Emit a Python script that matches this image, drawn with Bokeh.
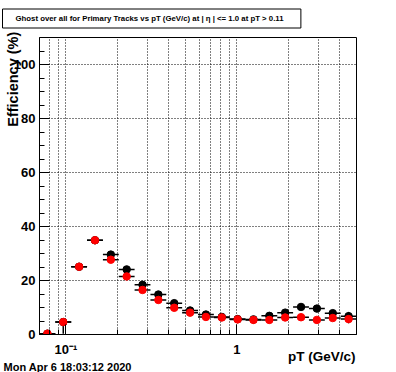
import math
from bokeh.plotting import figure
from bokeh.models import FixedTicker, Range1d, CustomJSTickFormatter, Title
from bokeh.embed import file_html
from bokeh.resources import INLINE

# pT bins (GeV/c), log-spaced
bin_lo = [0.0700, 0.0866, 0.1073, 0.1328, 0.1644, 0.2035, 0.2519, 0.3118, 0.3860, 0.4779,
          0.5916, 0.7324, 0.9067, 1.1224, 1.3894, 1.7200, 2.1290, 2.6360, 3.2630, 4.0400]
bin_hi = [0.0866, 0.1073, 0.1328, 0.1644, 0.2035, 0.2519, 0.3118, 0.3860, 0.4779, 0.5916,
          0.7324, 0.9067, 1.1224, 1.3894, 1.7200, 2.1290, 2.6360, 3.2630, 4.0400, 5.0000]

# black series (%)
black_eff = [0.3, 4.6, 25.1, 34.9, 29.6, 24.1, 18.4, 14.8, 11.6, 8.9,
             7.4, 6.5, 5.7, 5.6, 6.9, 8.1, 10.2, 9.6, 7.9, 6.8]
black_err_lo = [0.0, 4.3, 0.0, 0.0, 0.0, 0.0, 0.0, 0.0, 0.0, 0.0,
                0.0, 0.0, 0.0, 0.0, 0.0, 0.0, 0.0, 0.0, 0.0, 2.6]
black_err_hi = [0.0, 0.8, 0.0, 0.0, 0.0, 0.0, 0.0, 0.0, 0.0, 0.0,
                0.0, 0.0, 0.0, 0.0, 0.0, 0.0, 0.0, 0.0, 0.0, 1.5]
# red series (%)
red_eff = [0.3, 4.6, 25.1, 34.9, 27.7, 21.5, 16.5, 12.8, 9.9, 8.1,
           6.5, 6.3, 5.6, 5.4, 5.4, 6.3, 6.4, 5.4, 6.1, 5.7]

x_major = [0.1, 1.0]
x_minor = [0.08, 0.09, 0.2, 0.3, 0.4, 0.5, 0.6, 0.7, 0.8, 0.9, 2.0, 3.0, 4.0, 5.0]
x_grid = [0.08, 0.09, 0.1, 0.2, 0.3, 0.4, 0.5, 0.6, 0.7, 0.8, 0.9, 1.0, 2.0, 3.0, 4.0]
y_major = [0, 20, 40, 60, 80, 100]
y_minor = [5, 10, 15, 25, 30, 35, 45, 50, 55, 65, 70, 75, 85, 90, 95, 105]
y_grid = [20, 40, 60, 80, 100]

title_text = "Ghost over all for Primary Tracks vs pT (GeV/c) at |   \u03b7 | <= 1.0 at pT > 0.11"
ylabel_text = "Efficiency (%)"
xlabel_text = "pT (GeV/c)"
date_text = "Mon Apr  6 18:03:12 2020"

centers = [math.sqrt(a * b) for a, b in zip(bin_lo, bin_hi)]

FONT = "Liberation Sans"
NBSP = "\u00a0"

p = figure(width=396, height=372, x_axis_type="log",
           x_range=Range1d(0.07, 5.0), y_range=Range1d(0, 110),
           output_backend="svg", toolbar_location=None,
           min_border_left=39, min_border_right=40, min_border_top=37, min_border_bottom=38)
p.background_fill_color = "white"
p.border_fill_color = "white"
p.outline_line_color = "black"
p.outline_line_width = 1
p.outline_line_alpha = 1.0

# title box
p.title = Title(text=title_text, align="left", offset=-37, standoff=15, vertical_align="top",
                text_font=FONT, text_font_style="bold", text_font_size="7.8px",
                text_color="black", background_fill_color="white",
                border_line_color="black", border_line_width=1,
                padding=(13, 5))

# axes
for ax in (p.xaxis, p.yaxis):
    ax.axis_line_color = "black"
    ax.major_tick_line_color = "black"
    ax.minor_tick_line_color = "black"
    ax.major_tick_out = 0
    ax.minor_tick_out = 0
    ax.major_tick_in = 10
    ax.minor_tick_in = 5
    ax.major_label_text_font = FONT
    ax.major_label_text_font_style = "bold"
    ax.major_label_text_font_size = "13px"
    ax.major_label_text_color = "black"
    ax.axis_label_text_font = FONT
    ax.axis_label_text_font_style = "bold"
    ax.axis_label_text_color = "black"
    ax.axis_label_align = "center"

p.xaxis.ticker = FixedTicker(ticks=x_major, minor_ticks=x_minor)
p.xaxis.formatter = CustomJSTickFormatter(code="return tick < 0.5 ? '10\u207b\u00b9' : '1';")
p.xaxis.major_label_standoff = 7
# leading non-breaking spaces push the title to the right end, as ROOT does
p.xaxis.axis_label = NBSP * 66 + xlabel_text
p.xaxis.axis_label_text_font_size = "13.5px"
p.xaxis.axis_label_standoff = -11

p.yaxis.ticker = FixedTicker(ticks=y_major, minor_ticks=y_minor)
p.yaxis.major_label_standoff = 4
p.yaxis.axis_label = NBSP * 53 + ylabel_text
p.yaxis.axis_label_text_font_size = "14.5px"
p.yaxis.axis_label_standoff = -10

p.xgrid.ticker = FixedTicker(ticks=x_grid)
p.ygrid.ticker = FixedTicker(ticks=y_grid)
for g in (p.xgrid, p.ygrid):
    g.grid_line_color = "black"
    g.grid_line_dash = "1 2"
    g.grid_line_width = 1
    g.grid_line_alpha = 1.0

# date stamp under the axis
p.add_layout(Title(text=date_text, align="left", offset=-36, standoff=-12, vertical_align="top",
                   text_font=FONT, text_font_style="bold", text_font_size="11px",
                   text_color="black"), "below")

# black series
p.segment(x0=bin_lo, y0=black_eff, x1=bin_hi, y1=black_eff, line_color="black", line_width=1.5)
p.segment(x0=centers, y0=[v - e for v, e in zip(black_eff, black_err_lo)],
          x1=centers, y1=[v + e for v, e in zip(black_eff, black_err_hi)],
          line_color="black", line_width=1.5)
p.scatter(x=centers, y=black_eff, size=7.5, marker="circle", fill_color="black", line_color="black")
# red series
p.segment(x0=bin_lo, y0=red_eff, x1=bin_hi, y1=red_eff, line_color="black", line_width=1.5)
p.scatter(x=centers, y=red_eff, size=7.5, marker="circle", fill_color="red", line_color="red")

open("out.html", "w").write(file_html(p, INLINE))
